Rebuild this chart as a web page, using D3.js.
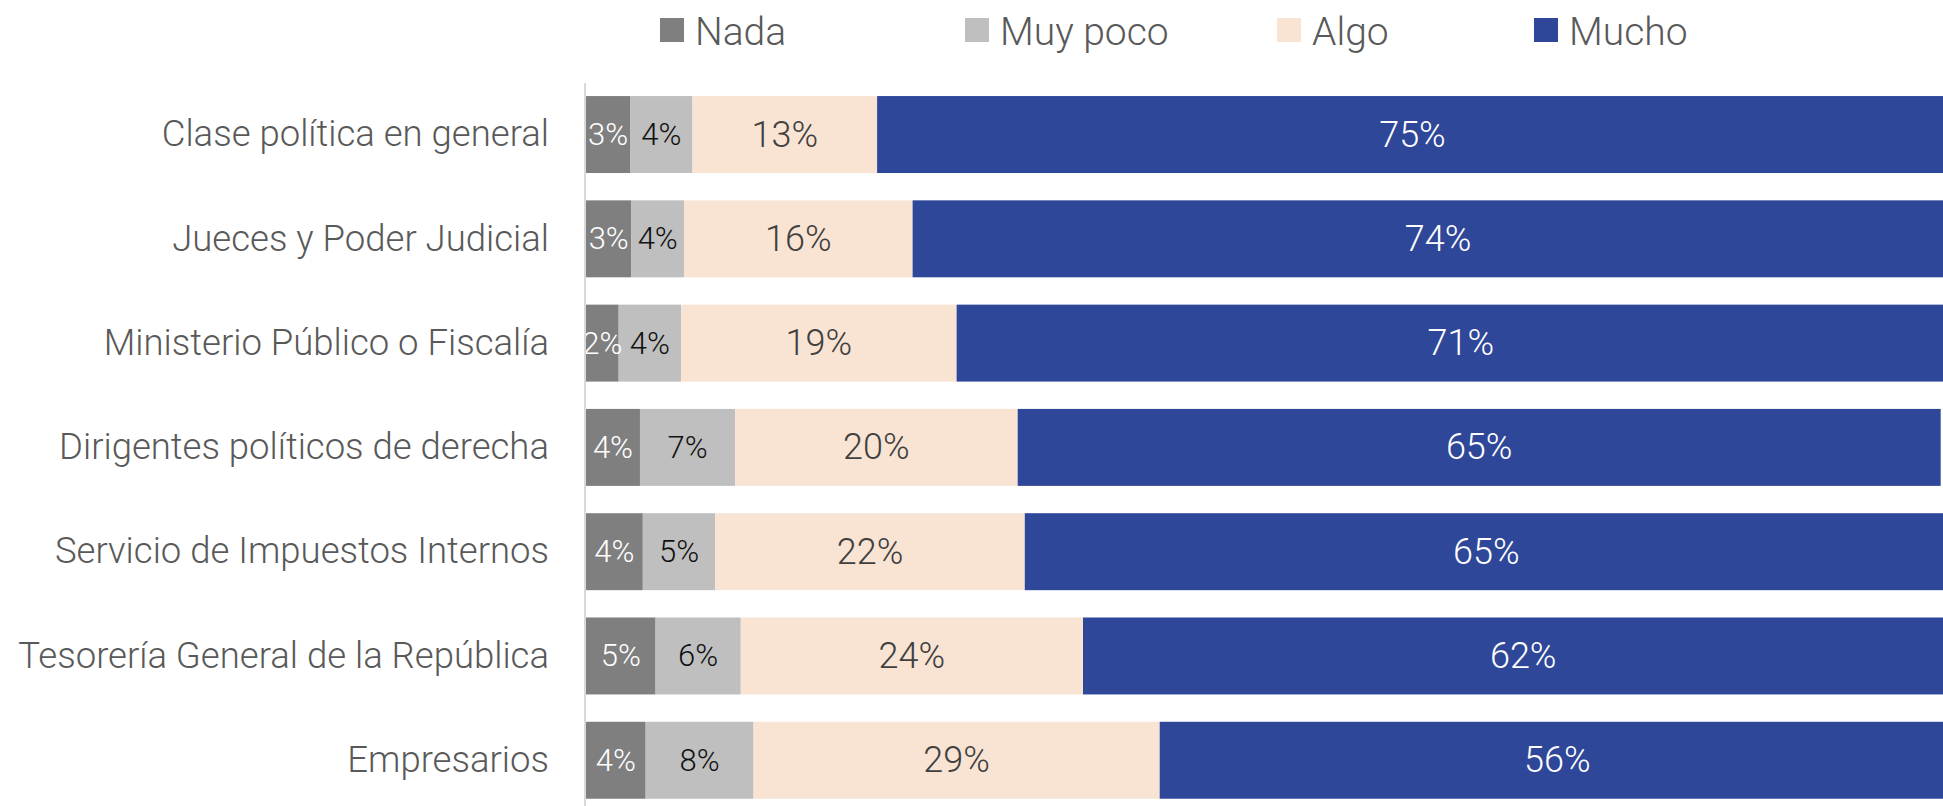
<!DOCTYPE html>
<html>
<head>
<meta charset="utf-8">
<script src="https://cdn.jsdelivr.net/npm/d3@7"></script>
<style>
  html, body { margin: 0; padding: 0; background: #fff; }
  svg { display: block; }
</style>
</head>
<body>
<svg id="chart" width="1943" height="806"></svg>
<script>
const categories = [
  "Clase política en general",
  "Jueces y Poder Judicial",
  "Ministerio Público o Fiscalía",
  "Dirigentes políticos de derecha",
  "Servicio de Impuestos Internos",
  "Tesorería General de la República",
  "Empresarios"
];
const seriesNames = ["Nada", "Muy poco", "Algo", "Mucho"];
const nada    = [3.1, 3.2, 2.3, 3.8, 4.0, 4.9, 4.2];
const muyPoco = [4.4, 3.7, 4.4, 6.7, 5.1, 6.0, 7.6];
const algo    = [13.0, 16.1, 19.4, 19.9, 21.8, 24.1, 28.6];
const mucho   = [75.4, 74.0, 71.0, 65.0, 65.0, 62.0, 56.0];
const colors = ["#7f7f7f", "#bfbfbf", "#f9e4d4", "#2f4799"];
const labelColors = ["#ffffff", "#111111", "#404040", "#ffffff"];

const table = categories.map((c, i) => ({
  cat: c, "Nada": nada[i], "Muy poco": muyPoco[i], "Algo": algo[i], "Mucho": mucho[i]
}));
const stacked = d3.stack().keys(seriesNames)(table);

const svg = d3.select("#chart");
const FONT = "Roboto, 'Noto Sans', sans-serif";

const x = d3.scaleLinear().domain([0, 100]).range([586, 2006]);
const y = d3.scaleBand().domain(categories).range([82.4, 812.4])
  .paddingInner(0.262).paddingOuter(0.131);

svg.append("defs").append("clipPath").attr("id", "plotclip")
  .append("rect").attr("x", 586).attr("y", 0).attr("width", 1500).attr("height", 900);

const plot = svg.append("g").attr("clip-path", "url(#plotclip)");

stacked.forEach((s, k) => {
  const g = plot.append("g").attr("fill", colors[k]);
  g.selectAll("rect").data(s).join("rect")
    .attr("x", d => x(d[0]))
    .attr("y", d => y(d.data.cat))
    .attr("width", d => x(d[1]) - x(d[0]))
    .attr("height", y.bandwidth());
});

stacked.forEach((s, k) => {
  const big = k >= 2;
  plot.append("g").selectAll("text").data(s).join("text")
    .attr("x", d => (x(d[0]) + x(d[1])) / 2)
    .attr("y", d => y(d.data.cat) + y.bandwidth() / 2)
    .attr("text-anchor", "middle")
    .attr("dominant-baseline", "central")
    .attr("font-family", FONT)
    .attr("font-weight", 300)
    .attr("font-size", big ? 36 : 31)
    .attr("fill", labelColors[k])
    .text(d => Math.round(d[1] - d[0]) + "%");
});

// category axis
const axis = svg.append("g").attr("transform", "translate(585,0)")
  .call(d3.axisLeft(y).tickSize(0).tickPadding(36));
axis.select(".domain").attr("stroke", "#d9d9d9").attr("stroke-width", 2)
  .attr("d", "M0,83V806");
axis.selectAll("text")
  .attr("font-family", FONT)
  .attr("font-weight", 300)
  .attr("font-size", 36.5)
  .attr("fill", "#595959");

// legend
const legendX = [660, 965, 1277, 1534];
const legend = svg.append("g");
seriesNames.forEach((n, k) => {
  legend.append("rect").attr("x", legendX[k]).attr("y", 18)
    .attr("width", 24).attr("height", 24).attr("fill", colors[k]);
  legend.append("text").attr("x", legendX[k] + 35).attr("y", 45)
    .attr("font-family", FONT).attr("font-weight", 300)
    .attr("font-size", 39).attr("fill", "#595959").text(n);
});
</script>
</body>
</html>
